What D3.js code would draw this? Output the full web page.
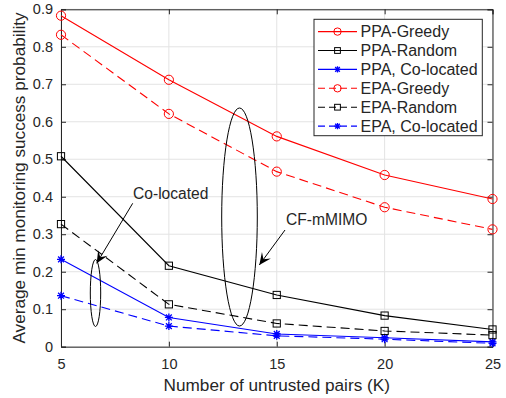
<!DOCTYPE html>
<html><head><meta charset="utf-8">
<script src="https://cdn.jsdelivr.net/npm/d3@7"></script>
<style>body{margin:0;background:#fff}svg{display:block}text{font-family:"Liberation Sans",Arial,Helvetica,sans-serif;fill:#262626}</style>
</head><body>
<svg id="c" width="506" height="398"></svg>
<script>
const K = [5, 10, 15, 20, 25];
const ppaGreedy = [0.883, 0.712, 0.561, 0.458, 0.394];
const ppaRandom = [0.508, 0.216, 0.138, 0.083, 0.046];
const ppaCo = [0.233, 0.078, 0.034, 0.024, 0.013];
const epaGreedy = [0.832, 0.621, 0.467, 0.372, 0.313];
const epaRandom = [0.327, 0.113, 0.062, 0.042, 0.031];
const epaCo = [0.136, 0.055, 0.029, 0.020, 0.009];
const yTicks = [0, 0.1, 0.2, 0.3, 0.4, 0.5, 0.6, 0.7, 0.8, 0.9];
const seriesNames = ["PPA-Greedy", "PPA-Random", "PPA, Co-located", "EPA-Greedy", "EPA-Random", "EPA, Co-located"];
const seriesData = [ppaGreedy, ppaRandom, ppaCo, epaGreedy, epaRandom, epaCo];
const seriesColor = ["#ff0000", "#000000", "#0000ff", "#ff0000", "#000000", "#0000ff"];
const seriesMarker = ["circle", "square", "star", "circle", "square", "star"];
const seriesDashed = [false, false, false, true, true, true];

const svg = d3.select("#c");
const L = 61, R = 492.5, T = 9.3, B = 346.7;
const x = d3.scaleLinear().domain([5, 25]).range([L, R]);
const y = d3.scaleLinear().domain([0, 0.9]).range([B, T]);
const axisCol = "#262626";

// grid
const g = svg.append("g");
g.selectAll(".gx").data(K).enter().append("line")
  .attr("x1", d => x(d)).attr("x2", d => x(d)).attr("y1", T).attr("y2", B)
  .attr("stroke", "#e3e3e3").attr("stroke-width", 1);
g.selectAll(".gy").data(yTicks).enter().append("line")
  .attr("y1", d => y(d)).attr("y2", d => y(d)).attr("x1", L).attr("x2", R)
  .attr("stroke", "#e3e3e3").attr("stroke-width", 1);

// axes
const fontTick = "14.5px";
const xa = svg.append("g").attr("transform", `translate(0,${B})`)
  .call(d3.axisBottom(x).tickValues(K).tickSize(-5).tickPadding(10).tickFormat(d3.format("d")));
const xt = svg.append("g").attr("transform", `translate(0,${T})`)
  .call(d3.axisTop(x).tickValues(K).tickSize(-5).tickFormat(""));
const ya = svg.append("g").attr("transform", `translate(${L},0)`)
  .call(d3.axisLeft(y).tickValues(yTicks).tickSize(-5).tickPadding(8).tickFormat(d => d === 0 ? "0" : d3.format(".1f")(d)));
const yr = svg.append("g").attr("transform", `translate(${R},0)`)
  .call(d3.axisRight(y).tickValues(yTicks).tickSize(-5).tickFormat(""));
[xa, xt, ya, yr].forEach(a => {
  a.select(".domain").attr("stroke", axisCol).attr("stroke-width", 1);
  a.selectAll(".tick line").attr("stroke", axisCol);
  a.selectAll("text").style("font-size", fontTick).style("fill", axisCol)
    .style("font-family", '"Liberation Sans",Arial,sans-serif');
});
xa.selectAll("text").attr("dy", "0.71em").attr("y", 12);

// markers
function drawMarker(sel, type, color, k) {
  k = k || 1;
  if (type === "circle") {
    sel.append("circle").attr("r", 4.6 * k).attr("fill", "none").attr("stroke", color).attr("stroke-width", 1);
  } else if (type === "square") {
    const h = 3.6 * k;
    sel.append("rect").attr("x", -h).attr("y", -h).attr("width", 2 * h).attr("height", 2 * h)
      .attr("fill", "none").attr("stroke", color).attr("stroke-width", 1);
  } else {
    const s = 4 * k, d = 2.9 * k;
    sel.append("path").attr("d", `M${-s},0L${s},0M0,${-s}L0,${s}M${-d},${-d}L${d},${d}M${-d},${d}L${d},${-d}`)
      .attr("stroke", color).attr("stroke-width", 1.3).attr("fill", "none");
  }
}

const line = d3.line().x((d, i) => x(K[i])).y(d => y(d));
const plot = svg.append("g");
seriesData.forEach((data, si) => {
  plot.append("path").attr("d", line(data)).attr("fill", "none")
    .attr("stroke", seriesColor[si]).attr("stroke-width", 1.1)
    .attr("stroke-dasharray", seriesDashed[si] ? "9,5" : null);
  data.forEach((v, i) => {
    const m = plot.append("g").attr("transform", `translate(${x(K[i])},${y(v)})`);
    drawMarker(m, seriesMarker[si], seriesColor[si]);
  });
});

// annotations
const ann = svg.append("g");
ann.append("ellipse").attr("cx", 239.5).attr("cy", 217).attr("rx", 17.8).attr("ry", 109)
  .attr("fill", "none").attr("stroke", "#000").attr("stroke-width", 1);
ann.append("ellipse").attr("cx", 95.5).attr("cy", 293).attr("rx", 5.2).attr("ry", 33.5)
  .attr("fill", "none").attr("stroke", "#000").attr("stroke-width", 1);
function arrow(x1, y1, x2, y2) {
  ann.append("line").attr("x1", x1).attr("y1", y1).attr("x2", x2).attr("y2", y2)
    .attr("stroke", "#000").attr("stroke-width", 1);
  const a = Math.atan2(y2 - y1, x2 - x1);
  const len = 12, w = 5.5, back = 7;
  const px = -Math.sin(a), py = Math.cos(a);
  const bx = x2 - len * Math.cos(a), by = y2 - len * Math.sin(a);
  const cx = x2 - back * Math.cos(a), cy = y2 - back * Math.sin(a);
  ann.append("path").attr("d",
    `M${x2},${y2}L${bx + px * w},${by + py * w}L${cx},${cy}L${bx - px * w},${by - py * w}Z`)
    .attr("fill", "#000");
}
arrow(132.7, 203.3, 96.7, 263.3);
arrow(285, 230, 259.3, 265);
ann.append("text").attr("x", 133).attr("y", 198.5).style("font-size", "15.6px").text("Co-located");
ann.append("text").attr("x", 286).attr("y", 224.5).style("font-size", "15.6px").text("CF-mMIMO");

// legend
const leg = svg.append("g");
leg.append("rect").attr("x", 314).attr("y", 19.3).attr("width", 168.3).attr("height", 116.4)
  .attr("fill", "#fff").attr("stroke", axisCol).attr("stroke-width", 1);
seriesNames.forEach((name, i) => {
  const ry = 31.6 + i * 18.9;
  leg.append("line").attr("x1", 318).attr("x2", 357).attr("y1", ry).attr("y2", ry)
    .attr("stroke", seriesColor[i]).attr("stroke-width", 1.1)
    .attr("stroke-dasharray", seriesDashed[i] ? "7,4" : null);
  const m = leg.append("g").attr("transform", `translate(337.5,${ry})`);
  drawMarker(m, seriesMarker[i], seriesColor[i], 0.8);
  leg.append("text").attr("x", 360.5).attr("y", ry).attr("dy", "0.36em")
    .style("font-size", "16px").text(name);
});

// axis labels
svg.append("text").attr("x", (L + R) / 2).attr("y", 391).attr("text-anchor", "middle")
  .style("font-size", "17.2px").text("Number of untrusted pairs (K)");
svg.append("text").attr("transform", `translate(25,${(T + B) / 2}) rotate(-90)`)
  .attr("text-anchor", "middle").style("font-size", "17.2px")
  .text("Average min monitoring success probability");
</script>
</body></html>
